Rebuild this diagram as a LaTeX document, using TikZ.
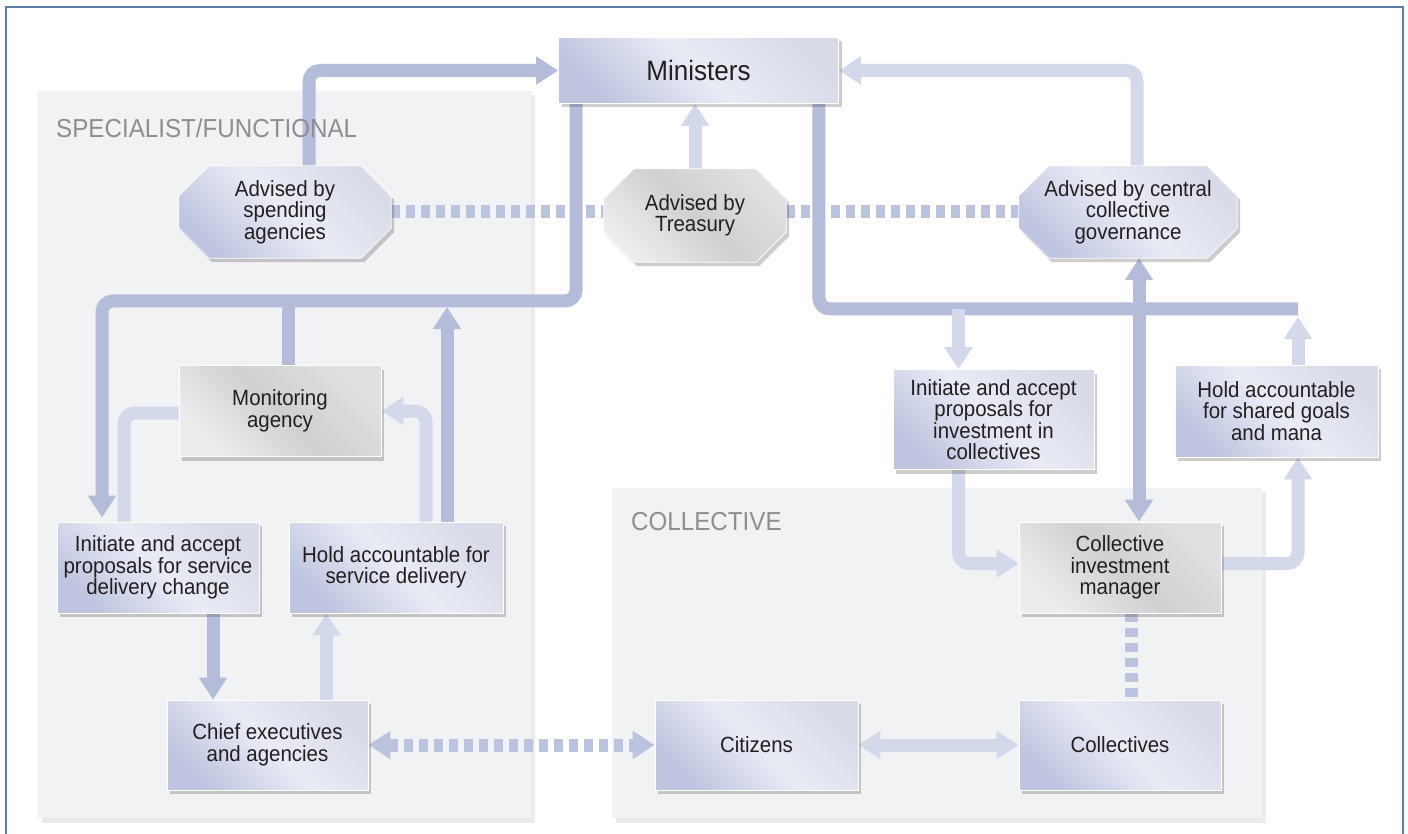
\documentclass[tikz,border=0pt]{standalone}
\usepackage{fontspec}
\setmainfont{Liberation Sans}[FakeStretch=0.93]
\usetikzlibrary{arrows.meta,shadows,calc}
\definecolor{framec}{HTML}{5B7DAA}
\definecolor{panelc}{HTML}{F1F2F4}
\definecolor{labelc}{HTML}{8C8E91}
\definecolor{txt}{HTML}{231F20}
\definecolor{arrowc}{HTML}{B4BCD9}
\definecolor{arrowl}{HTML}{D3D8EA}
\definecolor{dashc}{HTML}{BCC3DF}
\definecolor{boxA}{HTML}{BFC5E0}
\definecolor{boxB}{HTML}{E9EBF5}
\definecolor{boxC}{HTML}{D9DCE8}
\definecolor{grayA}{HTML}{EDEDEE}
\definecolor{grayB}{HTML}{CFD0D2}
\definecolor{grayC}{HTML}{E0E0E2}
\pgfdeclarelayer{panel}
\pgfdeclarelayer{arrows}
\pgfdeclarelayer{shapes}
\pgfsetlayers{panel,arrows,shapes,main}
\tikzset{
  boxshade/.style={top color=boxC, bottom color=boxA, middle color=boxB, shading angle=-45},
  grayshade/.style={top color=grayC, bottom color=grayA, middle color=grayB, shading angle=-45},
  shadowed/.style={drop shadow={shadow xshift=3pt, shadow yshift=-4pt, opacity=0.28, fill=black!70}},
  box/.style={rectangle, inner sep=2pt, boxshade, draw=white, line width=0.8pt, shadowed},
  graybox/.style={box, grayshade},
  octnode/.style={rectangle, inner sep=2pt},
  octfill/.style={boxshade, draw=white, line width=0.8pt, shadowed},
  octgray/.style={grayshade, draw=white, line width=0.8pt, shadowed},
  arr/.style={draw=arrowc, line width=13pt, rounded corners=11pt, ->},
  arrl/.style={draw=arrowl, line width=13pt, rounded corners=11pt, ->},
  dsh/.style={draw=dashc, line width=13pt, dash pattern=on 9pt off 6pt},
  panellabel/.style={text=labelc, font=\fontsize{26}{30}\selectfont, anchor=west, inner sep=0pt},
}
\newcommand\octagonof[2]{%
  \path[#2] ([xshift=30pt]#1.north west) -- ([xshift=-30pt]#1.north east)
    -- ([yshift=-30pt]#1.north east) -- ([yshift=30pt]#1.south east)
    -- ([xshift=-30pt]#1.south east) -- ([xshift=30pt]#1.south west)
    -- ([yshift=30pt]#1.south west) -- ([yshift=-30pt]#1.north west) -- cycle;}
\begin{document}
\begin{tikzpicture}[x=1pt,y=-1pt,
  >={Triangle[width=27pt,length=22pt]},
  every node/.style={text=txt, align=center, font=\fontsize{22}{21.5}\selectfont}]
\useasboundingbox (0,0) rectangle (1408,834);

% panels
\begin{pgfonlayer}{panel}
\fill[white] (0,0) rectangle (1408,834);
\draw[framec, line width=1.5pt] (6,834) -- (6,7) -- (1403,7) -- (1403,834);
\fill[black, opacity=0.08] (42,95) rectangle (535,823);
\fill[black, opacity=0.08] (616,492) rectangle (1266,823);
\fill[panelc] (38,91) rectangle (531,818);
\fill[panelc] (612,488) rectangle (1262,818);
\end{pgfonlayer}

% nodes
\node[box, minimum width=280pt, minimum height=66pt, font=\fontsize{28}{30}\selectfont] (min) at (698.5,70.5) {Ministers};
\node[octnode, minimum width=212pt, minimum height=92pt] (sa) at (285,212) {Advised by\\spending\\agencies};
\node[octnode, minimum width=182pt, minimum height=93pt] (tr) at (695,215.5) {Advised by\\Treasury};
\node[octnode, minimum width=218pt, minimum height=92pt] (cg) at (1128,212) {Advised by central\\collective\\governance};
\node[graybox, minimum width=202pt, minimum height=91pt] (mon) at (280,411) {Monitoring\\agency};
\node[box, minimum width=202pt, minimum height=91pt] (isd) at (158,567.5) {Initiate and accept\\proposals for service\\delivery change};
\node[box, minimum width=214pt, minimum height=91pt] (hsd) at (396,567.5) {Hold accountable for\\service delivery};
\node[box, minimum width=201pt, minimum height=90pt] (ce) at (267.5,745) {Chief executives\\and agencies};
\node[box, minimum width=203pt, minimum height=90pt] (cit) at (756.5,745) {Citizens};
\node[box, minimum width=202pt, minimum height=90pt] (col) at (1120,745) {Collectives};
\node[graybox, minimum width=202pt, minimum height=91pt] (cim) at (1120,567.5) {Collective\\investment\\manager};
\node[box, minimum width=201pt, minimum height=100pt] (iic) at (993.5,419.5) {Initiate and accept\\proposals for\\investment in\\collectives};
\node[box, minimum width=203pt, minimum height=92pt] (hsg) at (1276.5,411) {Hold accountable\\for shared goals\\and mana};

\begin{pgfonlayer}{shapes}
\octagonof{sa}{octfill}
\octagonof{tr}{octgray}
\octagonof{cg}{octfill}
\end{pgfonlayer}

\coordinate (b1) at (102,301);
\coordinate (b2) at (1298,309);

\begin{pgfonlayer}{arrows}
% dashed links between advisers
\draw[dsh] (sa.east) -- (sa.east -| tr.west);
\draw[dsh] (tr.east |- cg.west) -- (cg.west);
% left side
\draw[arr] ([xshift=24pt]sa.north) |- (min.west);
\draw[arr, shorten >=4pt] ([xshift=18pt]min.south west) |- (b1) -- (b1 |- isd.north);
\draw[arr,-] ([xshift=8pt]mon.north) -- ([xshift=8pt]mon.north |- b1);
\draw[arr, shorten >=6pt] ([xshift=51pt]hsd.north) -- ([xshift=51pt]hsd.north |- b1);
\draw[arrl] ([xshift=30pt]hsd.north) |- (mon.east);
\draw[arrl,-] ([yshift=-2pt]mon.west) -| ([xshift=-34pt]isd.north);
\draw[arr] ([xshift=55pt]isd.south) -- ([xshift=55pt]isd.south |- ce.north);
\draw[arrl] ([xshift=59pt]ce.north) -- ([xshift=59pt]ce.north |- hsd.south);
\draw[dsh,<->] (ce.east) -- (cit.west);
\draw[arrl,<->] (cit.east) -- (col.west);
\draw[dsh] ([xshift=11pt]cim.south) -- ([xshift=11pt]col.north);
% top
\draw[arrl] (tr.north) -- (tr.north |- min.south);
\draw[arrl] ([xshift=9pt]cg.north) |- (min.east);
\draw[arr,-] ([xshift=-20pt]min.south east) |- (b2);
\draw[arrl] ([xshift=-35pt]iic.north |- b2) -- ([xshift=-35pt]iic.north);
\draw[arrl, shorten >=8pt] ([xshift=21.5pt]hsg.north) -- ([xshift=21.5pt]hsg.north |- b2);
\draw[arr,<->] ([xshift=11pt]cg.south) -- ([xshift=19pt]cim.north);
\draw[arrl] ([xshift=-35pt]iic.south) |- ([yshift=4pt]cim.west);
\draw[arrl] ([yshift=4pt]cim.east) -| ([xshift=21.5pt]hsg.south);
\end{pgfonlayer}

\node[panellabel] (lsf) at (56,128) {SPECIALIST/FUNCTIONAL};
\node[panellabel] (lcol) at (631,522) {COLLECTIVE};
\end{tikzpicture}
\end{document}
